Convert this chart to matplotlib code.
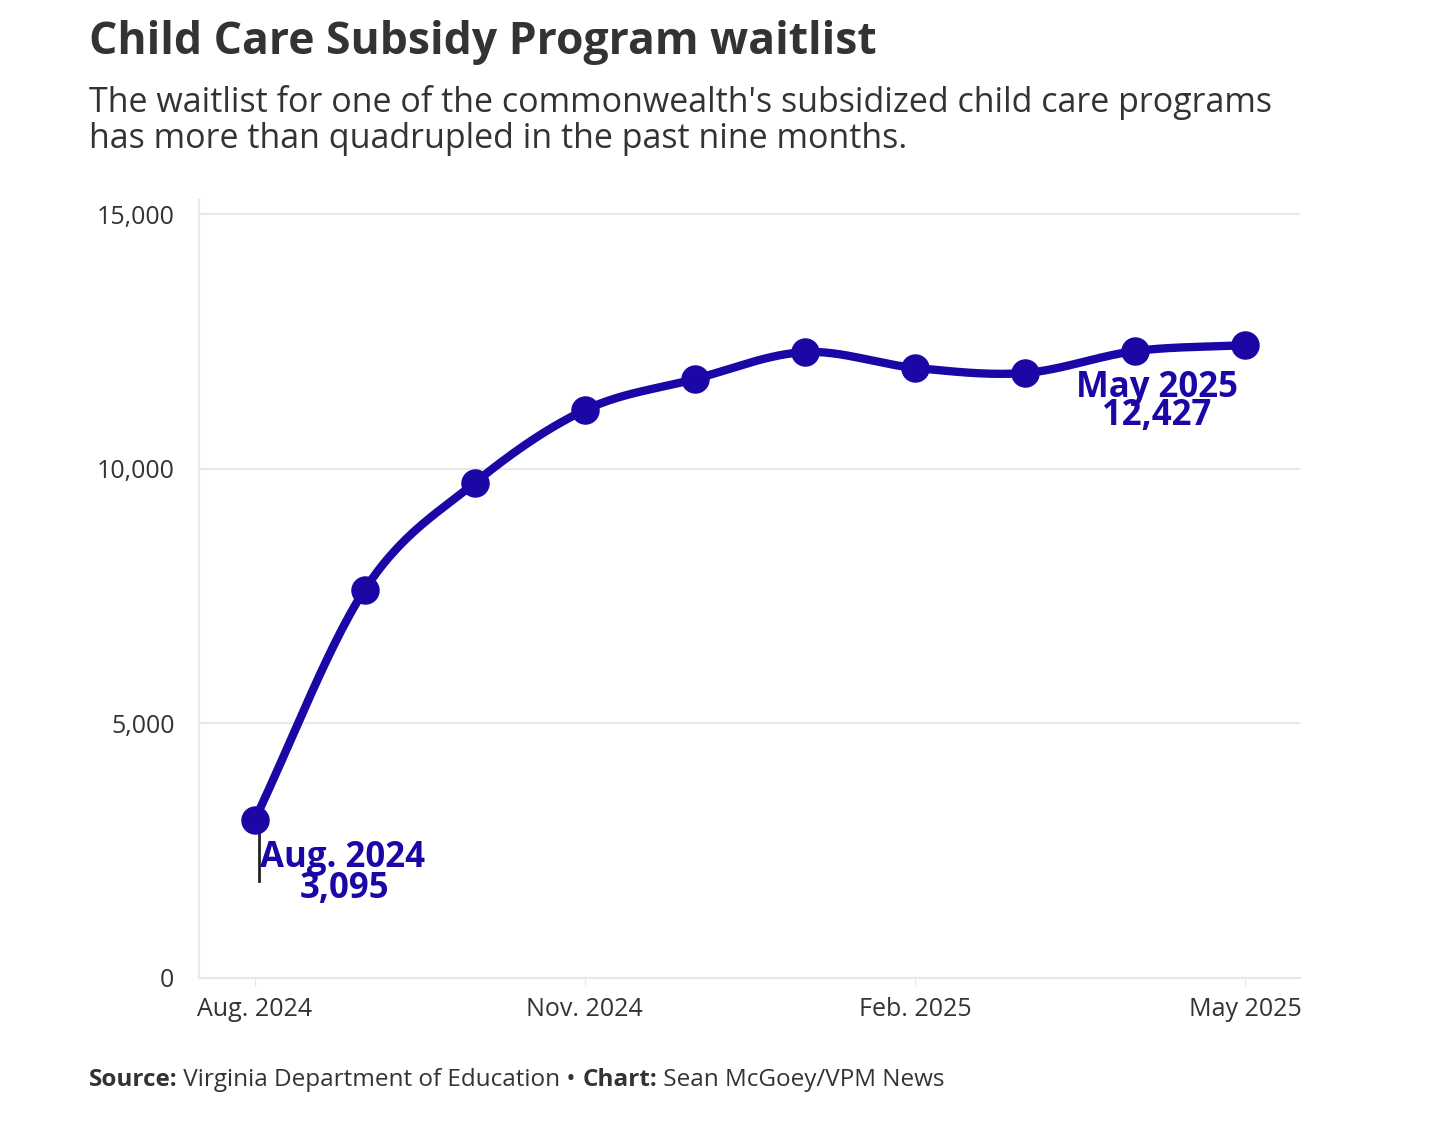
import numpy as np
import matplotlib.pyplot as plt

months = np.arange(10)
waitlist = [3095, 7620, 9720, 11150, 11760, 12290, 11980, 11880, 12310, 12427]
tick_pos = [0, 3, 6, 9]
tick_labels = ['Aug. 2024', 'Nov. 2024', 'Feb. 2025', 'May 2025']

plt.rcParams['font.family'] = ['Open Sans', 'DejaVu Sans']
color = '#1b06a6'

# Catmull-Rom smoothing between the points
def smooth(x, y, n=30):
    x = np.asarray(x, float); y = np.asarray(y, float)
    px = np.concatenate([[2*x[0]-x[1]], x, [2*x[-1]-x[-2]]])
    py = np.concatenate([[2*y[0]-y[1]], y, [2*y[-1]-y[-2]]])
    xs, ys = [], []
    t = np.linspace(0, 1, n)
    for i in range(1, len(px) - 2):
        for p, out in ((px, xs), (py, ys)):
            p0, p1, p2, p3 = p[i-1], p[i], p[i+1], p[i+2]
            out.extend(0.5*((2*p1) + (-p0+p2)*t + (2*p0-5*p1+4*p2-p3)*t**2 + (-p0+3*p1-3*p2+p3)*t**3))
    return xs, ys

fig = plt.figure(figsize=(14.56, 11.37), dpi=100)
ax = fig.add_axes([0.137, 0.14, 0.756, 0.684])

sx, sy = smooth(months, waitlist)
ax.plot(sx, sy, color=color, lw=6, solid_capstyle='round', zorder=3)
ax.scatter(months, waitlist, s=380, color=color, zorder=4)

ax.set_xlim(-0.5, 9.5)
ax.set_ylim(0, 15275)
ax.set_yticks([0, 5000, 10000, 15000])
ax.set_yticklabels(['0', '5,000', '10,000', '15,000'])
ax.set_xticks(tick_pos)
ax.set_xticklabels(tick_labels)
ax.grid(axis='y', color='#e8e8e8', lw=1.5)
ax.set_axisbelow(True)
for s in ['top', 'right']:
    ax.spines[s].set_visible(False)
for s in ['left', 'bottom']:
    ax.spines[s].set_color('#e8e8e8')
    ax.spines[s].set_linewidth(1.5)
ax.tick_params(axis='both', labelsize=18, colors='#333333', length=6, color='#e8e8e8')
ax.tick_params(axis='y', length=0, pad=18)
ax.tick_params(axis='x', pad=8)

# annotations
ax.plot([0.04, 0.04], [waitlist[0], 1900], color='#222222', lw=2, zorder=2)
ax.text(0.05, 2350, 'Aug. 2024', color=color, fontsize=25, fontweight='bold', va='center')
ax.text(0.82, 1750, f'{waitlist[0]:,}', color=color, fontsize=25, fontweight='bold', va='center', ha='center')
ax.text(8.2, 11580, 'May 2025', color=color, fontsize=25, fontweight='bold', va='center', ha='center')
ax.text(8.2, 11040, f'{waitlist[-1]:,}', color=color, fontsize=25, fontweight='bold', va='center', ha='center')

fig.text(0.061, 0.963, 'Child Care Subsidy Program waitlist', fontsize=32, fontweight='bold',
         color='#333333', va='center')
fig.text(0.061, 0.894, "The waitlist for one of the commonwealth's subsidized child care programs\n"
         "has more than quadrupled in the past nine months.", fontsize=24.5, color='#333333',
         va='center', linespacing=1.05)

# source line built from pieces so bold and regular sit side by side
parts = [('Source:', 'bold'), (' Virginia Department of Education • ', 'normal'),
         ('Chart:', 'bold'), (' Sean McGoey/VPM News', 'normal')]
prev = fig.text(0.061, 0.045, parts[0][0], fontsize=17.5, fontweight=parts[0][1], color='#333333')
for txt, w in parts[1:]:
    prev = fig.text(0, 0, txt, fontsize=17.5, fontweight=w, color='#333333')
    prev.set_transform(plt.matplotlib.transforms.offset_copy(fig.transFigure, fig=fig))
fig.canvas.draw()
x = 0.061
r = fig.canvas.get_renderer()
for t in fig.texts[-4:]:
    t.set_position((x, 0.045))
    bb = t.get_window_extent(r)
    x += bb.width / fig.bbox.width

fig.savefig('out.png', dpi=100, facecolor='white')
